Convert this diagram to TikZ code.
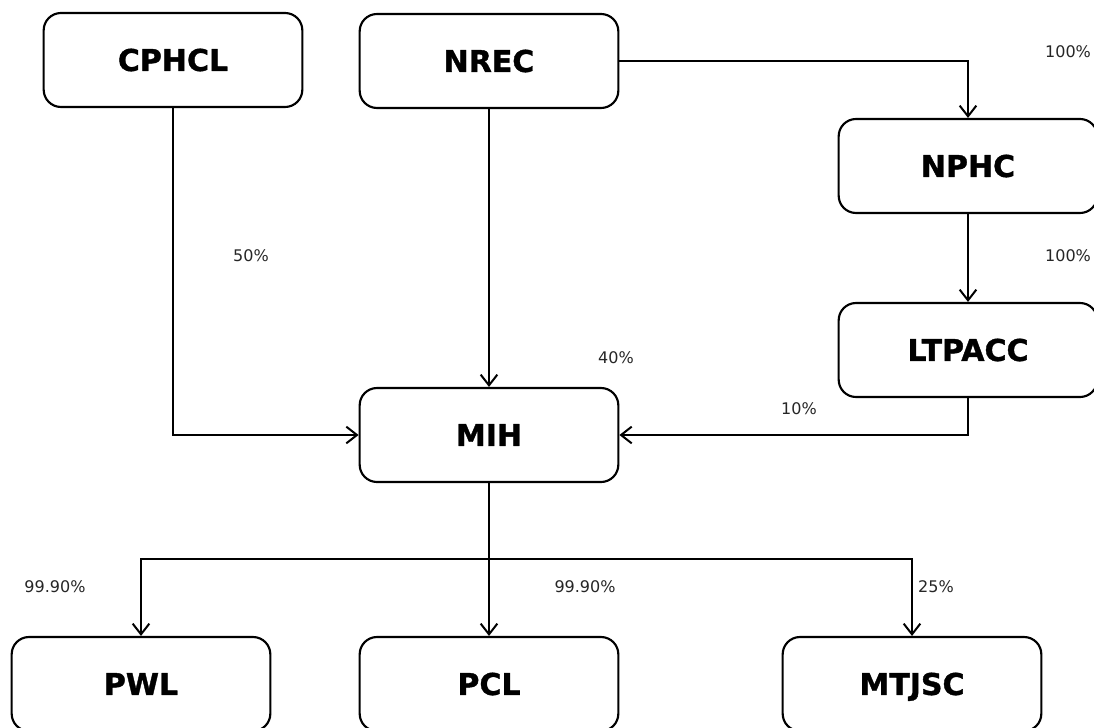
\documentclass[tikz,border=0pt]{standalone}
\usepackage{fontspec}
\setmainfont{DejaVu Sans}
\newfontfamily\heavyfont[FakeBold=1.2]{DejaVu Sans Bold}
\usetikzlibrary{arrows.meta}
\begin{document}
\begin{tikzpicture}[x=0.75pt,y=-0.75pt,
  entity/.style={draw=black,line width=1.6pt,rounded corners=13pt,fill=white,
    minimum width=194pt,minimum height=70.5pt,inner sep=0pt,
    text height=16.4pt,text depth=0pt,
    font=\fontsize{22.5pt}{26pt}\heavyfont},
  pct/.style={font=\fontsize{12pt}{14pt}\selectfont,text=black!85,inner sep=0pt},
  link/.style={line width=1.6pt,draw=black},
  arr/.style={link,-{Straight Barb[length=8pt,width=12.5pt,line width=1.5pt]}}]
\clip (0,0) rectangle (1094,727);
\fill[white] (0,0) rectangle (1094,727);
% nodes
\node[entity] (cphcl) at (173,60) {CPHCL};
\node[entity] (nrec)  at (489,61) {NREC};
\node[entity] (nphc)  at (968,166) {NPHC};
\node[entity] (ltpacc) at (968,350) {LTPACC};
\node[entity] (mih)   at (489,435) {MIH};
\node[entity] (pwl)   at (141,684) {PWL};
\node[entity] (pcl)   at (489,684) {PCL};
\node[entity] (mtjsc) at (912,684) {MTJSC};
\coordinate (bus) at (489,559);
% connectors
\draw[arr] (cphcl.south) |- (mih.west);
\draw[arr] (nrec.south) -- (mih.north);
\draw[arr] (nrec.east) -| (nphc.north);
\draw[arr] (nphc.south) -- (ltpacc.north);
\draw[arr] (ltpacc.south) |- (mih.east);
\draw[link] (mih.south) -- (bus);
\draw[arr] (bus) -| (pwl.north);
\draw[arr] (bus) -| (mtjsc.north);
\draw[arr] (bus) -- (pcl.north);
% labels
\node[pct] (l1) at (1068,52) {100\%};
\node[pct] (l2) at (251,256) {50\%};
\node[pct] (l3) at (1068,256) {100\%};
\node[pct] (l4) at (616,358) {40\%};
\node[pct] (l5) at (799,409) {10\%};
\node[pct] (l6) at (55,587) {99.90\%};
\node[pct] (l7) at (585,587) {99.90\%};
\node[pct] (l8) at (936,587) {25\%};
\end{tikzpicture}
\end{document}
